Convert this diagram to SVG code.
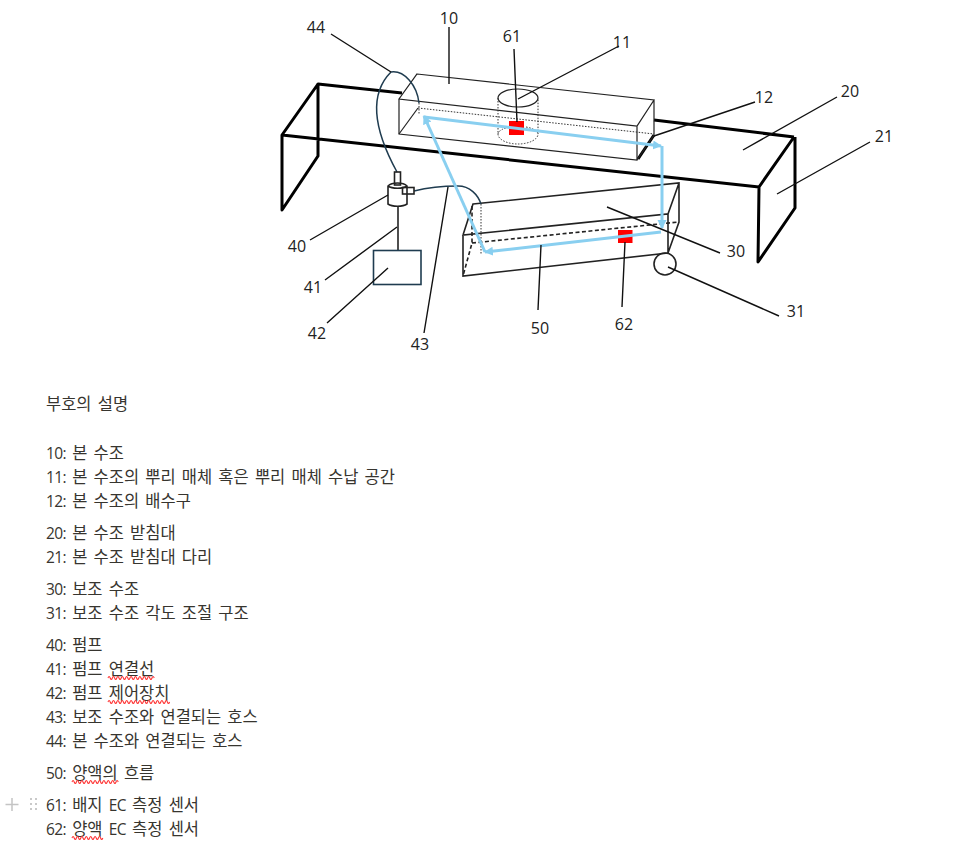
<svg xmlns="http://www.w3.org/2000/svg" width="962" height="859" viewBox="0 0 962 859">
<style>
.n{font:16px "Open Sans","Noto Sans CJK KR",sans-serif;fill:#222}
.t{font:16.5px "Open Sans","Noto Sans CJK KR",sans-serif;fill:#37352f;word-spacing:1.9px}
.t tspan{font-size:15.5px;letter-spacing:-0.6px}
.k{fill:none;stroke:#000;stroke-width:3;stroke-linejoin:round}
.l{fill:none;stroke:#111;stroke-width:1.4}
.e{fill:none;stroke:#222;stroke-width:1.2}
.f{fill:none;stroke:#222;stroke-width:1.6}
.d{fill:none;stroke:#333;stroke-width:1;stroke-dasharray:1.5 1.5}
.h{fill:none;stroke:#1f3c50;stroke-width:1.5}
.b{fill:none;stroke:#89cff0;stroke-width:3}
.w{fill:none;stroke:#f33;stroke-width:1.1}
</style>
<defs>
<marker id="a" markerUnits="userSpaceOnUse" markerWidth="10" markerHeight="10" refX="8" refY="4.5" orient="auto"><path d="M0 0L9 4.5L0 9z" fill="#89cff0"/></marker>
</defs>
<g id="stand">
<path class="k" d="M318 84L282 135V210L318 156V84L402 93M654 120L794 137M282 135L759 187M794 137L759 187L758 262L795 208V137"/>
<path class="k" d="M638 159L654 135"/>
</g>
<g id="main-tank">
<path class="e" d="M417 74L654 100L637 126L399 99ZM399 99V134L637 160V126M654 100V135L637 160"/>
<path class="e" stroke-width="0.8" d="M399 134L418 108"/>
<path class="d" d="M419 103V115M418 108L654 134"/>
<ellipse class="e" cx="518" cy="98" rx="20" ry="9"/>
<path class="d" d="M498 98V134A20 10 0 0 0 538 134V98M498 134A20 8 0 0 1 510 127M526 127A20 8 0 0 1 538 134"/>
</g>
<g id="sub-tank">
<path class="f" d="M473 204L679 183V222L668 253V214L463 235ZM463 235V276L668 253M679 183L668 214M473 204L463 235"/>
<path class="f" stroke-dasharray="4 2.5" d="M472 206V243L463 276M472 243L679 222"/>
<path class="d" d="M481 204V254"/>
<circle class="f" cx="665" cy="264" r="11"/>
</g>
<g id="pump">
<path class="h" d="M397 172C374 130 368 95 391 72C404 70 417 85 419 103M414 191C430 187 445 186 458 186C470 186 478 195 481 204"/>
<path class="f" d="M388 186V204C392 207 403 207 407 204V186C403 182 392 182 388 186ZM388 186C392 189 403 189 407 186"/>
<rect class="f" x="394.500" y="172" width="6" height="13" fill="#fff"/>
<rect class="f" x="402.500" y="187.500" width="11.500" height="6.500" fill="#fff"/>
<path class="f" d="M398 207V250"/>
<rect x="373.500" y="250.500" width="47.500" height="34" fill="none" stroke="#1f3c50" stroke-width="1.600"/>
</g>
<g id="sensors">
<rect x="509" y="121" width="15" height="14" fill="#f00"/>
<rect x="618" y="230" width="14.500" height="13" fill="#f00"/>
</g>
<g id="flow">
<path class="b" marker-end="url(#a)" d="M485 252L424 116"/>
<path class="b" marker-end="url(#a)" d="M424 117L661 146"/>
<path class="b" marker-end="url(#a)" d="M662 146V228"/>
<path class="b" marker-end="url(#a)" d="M661 232L485 252"/>
</g>
<g id="connectors">
<path class="l" d="M331 34L391 72M449 27V84M514 49L517 122M619 46L518 99M755 102L654 136M837 97L743 150M870 142L777 194M607 207L720 253M668 267L779 316M625 242L622 307M541 245L538 310M448 187L424 333M397 227L325 280M388 195L310 240M388 268L327 323"/>
</g>
<g id="labels">
<text class="n" x="316" y="33" text-anchor="middle">44</text>
<text class="n" x="449" y="24" text-anchor="middle">10</text>
<text class="n" x="512" y="42" text-anchor="middle">61</text>
<text class="n" x="622" y="48" text-anchor="middle">11</text>
<text class="n" x="764" y="103" text-anchor="middle">12</text>
<text class="n" x="850" y="97" text-anchor="middle">20</text>
<text class="n" x="884" y="142" text-anchor="middle">21</text>
<text class="n" x="736" y="257" text-anchor="middle">30</text>
<text class="n" x="796" y="317" text-anchor="middle">31</text>
<text class="n" x="297" y="252" text-anchor="middle">40</text>
<text class="n" x="313" y="293" text-anchor="middle">41</text>
<text class="n" x="317" y="339" text-anchor="middle">42</text>
<text class="n" x="420" y="350" text-anchor="middle">43</text>
<text class="n" x="540" y="334" text-anchor="middle">50</text>
<text class="n" x="624" y="330" text-anchor="middle">62</text>
</g>
<g id="legend">
<text class="t" x="46" y="409.500">부호의 설명</text>
<text class="t" x="46" y="458.500"><tspan>10:</tspan> 본 수조</text>
<text class="t" x="46" y="482.500"><tspan>11:</tspan> 본 수조의 뿌리 매체 혹은 뿌리 매체 수납 공간</text>
<text class="t" x="46" y="506.500"><tspan>12:</tspan> 본 수조의 배수구</text>
<text class="t" x="46" y="538.500"><tspan>20:</tspan> 본 수조 받침대</text>
<text class="t" x="46" y="562.500"><tspan>21:</tspan> 본 수조 받침대 다리</text>
<text class="t" x="46" y="594.500"><tspan>30:</tspan> 보조 수조</text>
<text class="t" x="46" y="618.500"><tspan>31:</tspan> 보조 수조 각도 조절 구조</text>
<text class="t" x="46" y="650.500"><tspan>40:</tspan> 펌프</text>
<text class="t" x="46" y="674.500"><tspan>41:</tspan> 펌프 연결선</text>
<text class="t" x="46" y="698.500"><tspan>42:</tspan> 펌프 제어장치</text>
<text class="t" x="46" y="722.500"><tspan>43:</tspan> 보조 수조와 연결되는 호스</text>
<text class="t" x="46" y="746.500"><tspan>44:</tspan> 본 수조와 연결되는 호스</text>
<text class="t" x="46" y="778.500"><tspan>50:</tspan> 양액의 흐름</text>
<text class="t" x="46" y="810.500"><tspan>61:</tspan> 배지 <tspan>EC</tspan> 측정 센서</text>
<text class="t" x="46" y="834.500"><tspan>62:</tspan> 양액 <tspan>EC</tspan> 측정 센서</text>
<path class="w" d="M108 678q1.100-3 2.200 0t2.200 0 2.200 0 2.200 0 2.200 0 2.200 0 2.200 0 2.200 0 2.200 0 2.200 0 2.200 0 2.200 0 2.200 0 2.200 0 2.200 0 2.200 0 2.200 0 2.200 0 2.200 0 2.200 0 2.200 0M108 702q1.100-3 2.200 0t2.200 0 2.200 0 2.200 0 2.200 0 2.200 0 2.200 0 2.200 0 2.200 0 2.200 0 2.200 0 2.200 0 2.200 0 2.200 0 2.200 0 2.200 0 2.200 0 2.200 0 2.200 0 2.200 0 2.200 0 2.200 0 2.200 0 2.200 0 2.200 0 2.200 0 2.200 0 2.200 0M72 782q1.100-3 2.200 0t2.200 0 2.200 0 2.200 0 2.200 0 2.200 0 2.200 0 2.200 0 2.200 0 2.200 0 2.200 0 2.200 0 2.200 0 2.200 0 2.200 0 2.200 0 2.200 0 2.200 0 2.200 0 2.200 0 2.200 0M72 838q1.100-3 2.200 0t2.200 0 2.200 0 2.200 0 2.200 0 2.200 0 2.200 0 2.200 0 2.200 0 2.200 0 2.200 0 2.200 0 2.200 0 2.200 0"/>
<path d="M12 798V811M5.500 804.500H18.500" stroke="#c4c4c4" stroke-width="1.500" fill="none"/>
<path d="M30 799h2M35 799h2M30 804h2M35 804h2M30 809h2M35 809h2" stroke="#c9c9c9" stroke-width="2" fill="none"/>
</g>
</svg>
